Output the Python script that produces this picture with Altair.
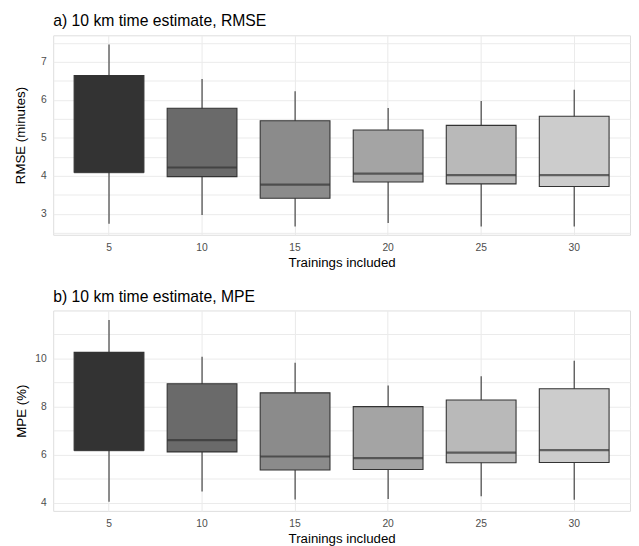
import altair as alt
import pandas as pd

trainings = [5, 10, 15, 20, 25, 30]
greys = ["#333333", "#6A6A6A", "#8B8B8B", "#A4A4A4", "#B9B9B9", "#CCCCCC"]

rmse_lower = [2.74, 2.97, 2.67, 2.76, 2.67, 2.67]
rmse_q1 = [4.10, 3.98, 3.41, 3.84, 3.79, 3.72]
rmse_median = [4.10, 4.22, 3.77, 4.06, 4.02, 4.02]
rmse_q3 = [6.64, 5.78, 5.45, 5.21, 5.33, 5.57]
rmse_upper = [7.46, 6.55, 6.23, 5.79, 5.97, 6.27]

mpe_lower = [4.04, 4.47, 4.13, 4.15, 4.27, 4.12]
mpe_q1 = [6.18, 6.11, 5.36, 5.38, 5.66, 5.67]
mpe_median = [6.18, 6.60, 5.92, 5.85, 6.08, 6.18]
mpe_q3 = [10.24, 8.94, 8.56, 7.99, 8.26, 8.73]
mpe_upper = [11.58, 10.06, 9.81, 8.87, 9.25, 9.89]

rmse_ticks = [2.5, 3.0, 3.5, 4.0, 4.5, 5.0, 5.5, 6.0, 6.5, 7.0, 7.5]
mpe_ticks = [4, 5, 6, 7, 8, 9, 10, 11]

FONT = "Liberation Sans"
W = 587


def panel(lower, q1, med, q3, upper, title, ytitle, domain, ticks, step, ypad, h):
    df = pd.DataFrame({"t": trainings, "lo": lower, "q1": q1, "med": med, "q3": q3, "hi": upper})
    x = alt.X("t:O", title="Trainings included",
              scale=alt.Scale(paddingInner=0.25, paddingOuter=0.225),
              axis=alt.Axis(labelAngle=0, labelFontSize=10.5, labelColor="#4D4D4D",
                            labelPadding=8, titlePadding=3, titleFontSize=13.5,
                            titleFontWeight="normal", titleColor="#000000",
                            ticks=False, domain=False, grid=True, gridColor="#EBEBEB",
                            gridWidth=1.1, labelFont=FONT, titleFont=FONT))
    yscale = alt.Scale(domain=domain, nice=False, zero=False)
    test = f"abs(datum.value / {step} - round(datum.value / {step})) < 0.01"
    yaxis = alt.Axis(values=ticks, labelExpr=f"{test} ? format(datum.value, 'd') : ''",
                     labelOverlap=False,
                     labelFontSize=10.5, labelColor="#4D4D4D", labelPadding=7,
                     titlePadding=ypad, titleFontSize=13.5, titleFontWeight="normal",
                     titleColor="#000000", ticks=False, domain=False, grid=True,
                     gridColor="#EBEBEB", gridWidth=1,
                     labelFont=FONT, titleFont=FONT)
    base = alt.Chart(df)
    whisk = base.mark_rule(color="#333333", strokeWidth=1.1).encode(
        x=x, y=alt.Y("lo:Q", scale=yscale, axis=yaxis, title=ytitle), y2="hi:Q")
    box = base.mark_bar(stroke="#333333", strokeWidth=1.1).encode(
        x="t:O", y=alt.Y("q1:Q", axis=yaxis, title=ytitle), y2="q3:Q",
        fill=alt.Fill("t:O", scale=alt.Scale(domain=trainings, range=greys), legend=None))
    medl = base.mark_tick(color="#333333", thickness=2.2, size=W / 6.2 * 0.75).encode(
        x="t:O", y=alt.Y("med:Q", axis=yaxis, title=ytitle))
    return alt.layer(whisk, box, medl).properties(
        width=W, height=h,
        title=alt.TitleParams(title, anchor="start", frame="group", fontSize=16, font=FONT,
                              fontWeight="normal", color="#000000", offset=6))


top = panel(rmse_lower, rmse_q1, rmse_median, rmse_q3, rmse_upper,
            "a) 10 km time estimate, RMSE", "RMSE (minutes)", [2.45, 7.70],
            rmse_ticks, 1, 13, 203)
bottom = panel(mpe_lower, mpe_q1, mpe_median, mpe_q3, mpe_upper,
               "b) 10 km time estimate, MPE", "MPE (%)", [3.66, 11.98],
               mpe_ticks, 2, 7, 204)

chart = alt.vconcat(top, bottom, spacing=18).properties(
    padding={"left": 5, "top": 0, "right": 0, "bottom": 0}
).configure_view(stroke="#EBEBEB", strokeWidth=1).configure(background="white")

chart.save("out.html", embed_options={"renderer": "svg", "actions": False})
